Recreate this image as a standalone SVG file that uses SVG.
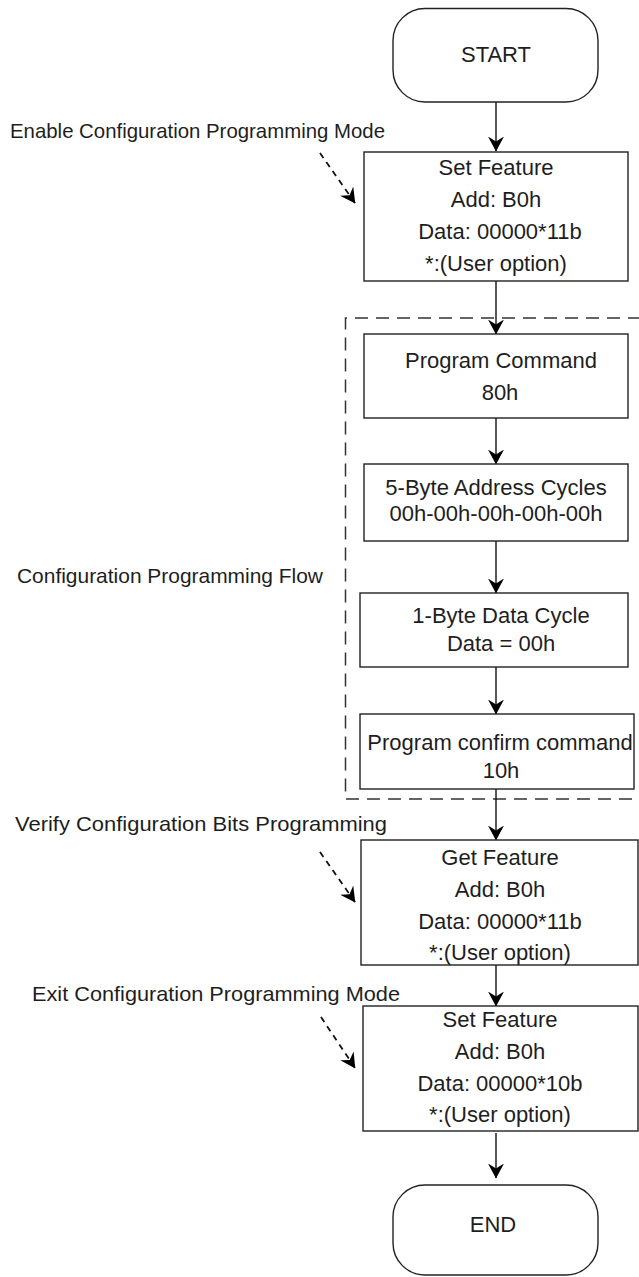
<svg xmlns="http://www.w3.org/2000/svg" width="639" height="1277" viewBox="0 0 639 1277">
<style>
text{font-family:"Liberation Sans",Arial,sans-serif;font-size:22px;fill:#1e1e1e}
.lbl{font-size:21px}
.c{text-anchor:middle}
.box{fill:#fff;stroke:#222;stroke-width:1.4}
.flow{stroke:#111;stroke-width:1.4;fill:none}
.hint{stroke:#111;stroke-width:1.8;fill:none;stroke-dasharray:6,5}
.group{stroke:#333;stroke-width:1.5;fill:none;stroke-dasharray:13,8}
</style>
<defs>
<marker id="ah" viewBox="0 0 15 16" refX="14.5" refY="8" markerWidth="15" markerHeight="16" markerUnits="userSpaceOnUse" orient="auto">
<path d="M0,0 L15,8 L0,16 L5,8 z" fill="#000"/>
</marker>
</defs>
<rect x="0" y="0" width="639" height="1277" fill="#fff"/>
<g id="container">
<path class="group" d="M641,318 H345.5 V799 H641"/>
</g>
<g id="labels">
<text class="lbl" x="10" y="138" textLength="375" lengthAdjust="spacingAndGlyphs">Enable Configuration Programming Mode</text>
<text class="lbl" x="17" y="583" textLength="306" lengthAdjust="spacingAndGlyphs">Configuration Programming Flow</text>
<text class="lbl" x="15" y="831" textLength="372" lengthAdjust="spacingAndGlyphs">Verify Configuration Bits Programming</text>
<text class="lbl" x="32" y="1001" textLength="368" lengthAdjust="spacingAndGlyphs">Exit Configuration Programming Mode</text>
</g>
<g id="connectors">
<line class="flow" x1="496" y1="102" x2="496" y2="151" marker-end="url(#ah)"/>
<line class="flow" x1="496" y1="281" x2="496" y2="334" marker-end="url(#ah)"/>
<line class="flow" x1="496" y1="418" x2="496" y2="464" marker-end="url(#ah)"/>
<line class="flow" x1="496" y1="541" x2="496" y2="593" marker-end="url(#ah)"/>
<line class="flow" x1="496" y1="667" x2="496" y2="714" marker-end="url(#ah)"/>
<line class="flow" x1="496" y1="789" x2="496" y2="840" marker-end="url(#ah)"/>
<line class="flow" x1="496" y1="965" x2="496" y2="1006" marker-end="url(#ah)"/>
<line class="flow" x1="496" y1="1133" x2="496" y2="1178" marker-end="url(#ah)"/>
<line class="hint" x1="320" y1="153" x2="355" y2="203" marker-end="url(#ah)"/>
<line class="hint" x1="320" y1="852" x2="355" y2="902" marker-end="url(#ah)"/>
<line class="hint" x1="321" y1="1017" x2="355" y2="1068" marker-end="url(#ah)"/>
</g>
<g id="start">
<rect class="box" x="393" y="8.5" width="205" height="93.5" rx="32" ry="32"/>
<text class="c" x="496" y="62">START</text>
</g>
<g id="set-feature-1">
<rect class="box" x="364" y="152" width="264" height="129"/>
<text class="c" x="496" y="175">Set Feature</text>
<text class="c" x="496" y="207">Add: B0h</text>
<text class="c" x="500" y="239">Data: 00000*11b</text>
<text class="c" x="496" y="271">*:(User option)</text>
</g>
<g id="program-command">
<rect class="box" x="364" y="334" width="264" height="84"/>
<text class="c" x="501" y="368">Program Command</text>
<text class="c" x="500" y="400">80h</text>
</g>
<g id="address-cycles">
<rect class="box" x="364" y="464" width="264" height="77"/>
<text class="c" x="496" y="495">5-Byte Address Cycles</text>
<text class="c" x="496" y="521">00h-00h-00h-00h-00h</text>
</g>
<g id="data-cycle">
<rect class="box" x="360" y="593" width="268" height="74"/>
<text class="c" x="501" y="623">1-Byte Data Cycle</text>
<text class="c" x="501" y="651">Data = 00h</text>
</g>
<g id="program-confirm">
<rect class="box" x="360" y="714" width="274" height="75"/>
<text class="c" x="500" y="750">Program confirm command</text>
<text class="c" x="501" y="778">10h</text>
</g>
<g id="get-feature">
<rect class="box" x="361" y="840" width="277" height="125"/>
<text class="c" x="500" y="865">Get Feature</text>
<text class="c" x="500" y="897">Add: B0h</text>
<text class="c" x="500" y="929">Data: 00000*11b</text>
<text class="c" x="500" y="960">*:(User option)</text>
</g>
<g id="set-feature-2">
<rect class="box" x="363" y="1006" width="275" height="125"/>
<text class="c" x="500" y="1027">Set Feature</text>
<text class="c" x="500" y="1059">Add: B0h</text>
<text class="c" x="500" y="1091">Data: 00000*10b</text>
<text class="c" x="500" y="1122">*:(User option)</text>
</g>
<g id="end">
<rect class="box" x="393" y="1185" width="205" height="90" rx="32" ry="32"/>
<text class="c" x="493" y="1232">END</text>
</g>
</svg>
